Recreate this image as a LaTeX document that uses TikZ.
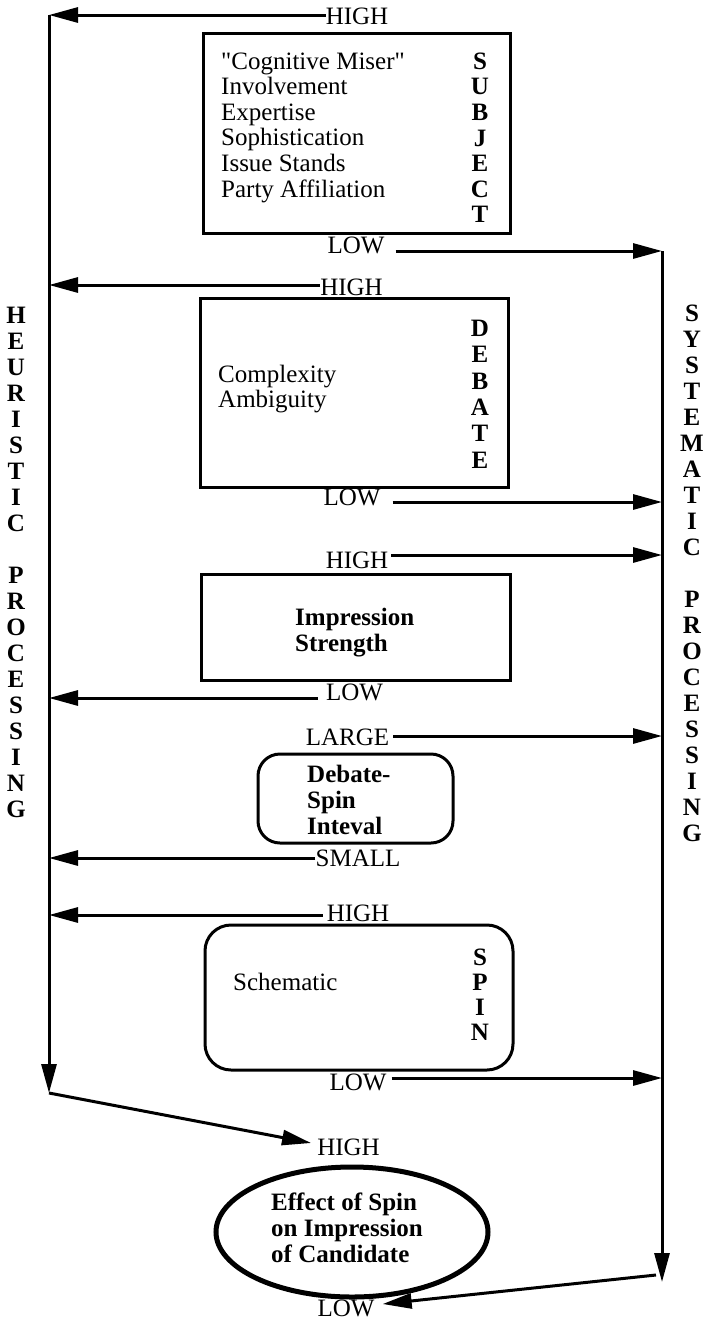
\documentclass[tikz,border=0pt]{standalone}
\usepackage{fontspec}
\setmainfont{Liberation Serif}
\usetikzlibrary{arrows.meta,shapes.geometric}
\begin{document}
\begin{tikzpicture}[x=1pt,y=-1pt,
  conn/.style={line width=3pt,-{Triangle[length=29pt,width=15pt]}},
  lbl/.style={font=\fontsize{25}{26}\selectfont,inner sep=0pt,text height=16.5pt,text depth=0pt},
  txt/.style={font=\fontsize{25}{26}\selectfont,inner sep=0pt,anchor=base west},
  btxt/.style={font=\fontsize{25}{26}\selectfont\bfseries,inner sep=0pt,anchor=base west},
  vlet/.style={font=\fontsize{25}{26}\selectfont\bfseries,inner sep=0pt,text height=16.5pt,text depth=0pt},
  sqbox/.style={draw,line width=3pt,inner sep=0pt},
  rbox/.style={draw,line width=3pt,inner sep=0pt},
]
\useasboundingbox (0,0) rectangle (707,1323);

% boxes
\node[sqbox,minimum width=307pt,minimum height=200pt] (subj) at (356.5,133) {};
\node[sqbox,minimum width=308pt,minimum height=189pt] (deb) at (354,392.5) {};
\node[sqbox,minimum width=309pt,minimum height=106pt] (imp) at (355.5,627) {};
\node[rbox,rounded corners=22pt,minimum width=195pt,minimum height=89pt] (dsi) at (355.5,798.5) {};
\node[rbox,rounded corners=26pt,minimum width=308pt,minimum height=145pt] (spin) at (359,997.5) {};
\node[ellipse,draw,line width=5pt,inner sep=0pt,minimum width=272pt,minimum height=130pt] (eff) at (352,1232) {};

% box texts
\foreach \t [count=\i from 0] in {\textquotedbl Cognitive Miser\textquotedbl,Involvement,Expertise,Sophistication,Issue Stands,Party Affiliation}
  \node[txt] (st\i) at (221,{69+25.6*\i}) {\t};
\foreach \c [count=\i from 0] in {S,U,B,J,E,C,T}
  \node[vlet] (sl\i) at (480,{61+25.6*\i}) {\c};
\node[txt] (dt0) at (218,382) {Complexity};
\node[txt] (dt1) at (218,407.5) {Ambiguity};
\foreach \c [count=\i from 0] in {D,E,B,A,T,E}
  \node[vlet] (dl\i) at (480,{328+26.4*\i}) {\c};
\node[btxt] (it0) at (295,625) {Impression};
\node[btxt] (it1) at (295,651.5) {Strength};
\node[btxt] (qt0) at (307,782) {Debate-};
\node[btxt] (qt1) at (307,808) {Spin};
\node[btxt] (qt2) at (307,834) {Inteval};
\node[txt] (pt0) at (233,990) {Schematic};
\foreach \c [count=\i from 0] in {S,P,I,N}
  \node[vlet] (pl\i) at (480,{957+25.2*\i}) {\c};
\node[btxt] (et0) at (271,1210) {Effect of Spin};
\node[btxt] (et1) at (271,1236) {on Impression};
\node[btxt] (et2) at (271,1262) {of Candidate};

% side labels
\foreach \c [count=\i from 0] in {H,E,U,R,I,S,T,I,C}
  \node[vlet] (ha\i) at (16,{315+26*\i}) {\c};
\foreach \c [count=\i from 0] in {P,R,O,C,E,S,S,I,N,G}
  \node[vlet] (hb\i) at (16,{575+26*\i}) {\c};
\foreach \c [count=\i from 0] in {S,Y,S,T,E,M,A,T,I,C}
  \node[vlet] (sa\i) at (692,{313+26*\i}) {\c};
\foreach \c [count=\i from 0] in {P,R,O,C,E,S,S,I,N,G}
  \node[vlet] (sb\i) at (692,{599+26*\i}) {\c};

% level labels
\node[lbl] (h1) at (357,16) {HIGH};
\node[lbl] (l1) at (356,245) {LOW};
\node[lbl] (h2) at (351.5,287) {HIGH};
\node[lbl] (l2) at (352,497) {LOW};
\node[lbl] (h3) at (357,560) {HIGH};
\node[lbl] (l3) at (354.5,692) {LOW};
\node[lbl] (lg) at (347.5,737) {LARGE};
\node[lbl] (sm) at (358,858) {SMALL};
\node[lbl] (h4) at (358,913) {HIGH};
\node[lbl] (l4) at (358,1082) {LOW};
\node[lbl] (hb) at (348.5,1147) {HIGH};
\node[lbl] (lb) at (346,1308) {LOW};

% line coordinates
\coordinate (Ltop) at (49,15);
\coordinate (Lbot) at (49,1093);
\coordinate (Rtop) at (662,251);
\coordinate (Rbot) at (662,1282);
\coordinate (La2) at (49,285);
\coordinate (Rb2) at (662,502);
\coordinate (Rb3) at (662,555);
\coordinate (La3) at (49,698);
\coordinate (Rb4) at (662,736);
\coordinate (La4) at (49,858);
\coordinate (La5) at (49,915);
\coordinate (Rb5) at (662,1078);
\coordinate (Rd) at (656,1275);

% connectors
\draw[conn] (h1.west |- Ltop) -- (Ltop);
\draw[conn] (Ltop) -- (Lbot);
\draw[conn] ([xshift=11pt]l1.east |- Rtop) -- (Rtop);
\draw[conn] (Rtop) -- (Rbot);
\draw[conn] (h2.west |- La2) -- (La2);
\draw[conn] ([xshift=12pt]l2.east |- Rb2) -- (Rb2);
\draw[conn] ([xshift=3pt]h3.east |- Rb3) -- (Rb3);
\draw[conn] ([xshift=-8pt]l3.west |- La3) -- (La3);
\draw[conn] ([xshift=4pt]lg.east |- Rb4) -- (Rb4);
\draw[conn] (sm.west |- La4) -- (La4);
\draw[conn] ([xshift=-4pt]h4.west |- La5) -- (La5);
\draw[conn] ([xshift=5pt]l4.east |- Rb5) -- (Rb5);
\draw[conn] (Lbot) -- ([xshift=-6pt,yshift=4pt]hb.west);
\draw[conn] (Rd) -- ([xshift=8pt,yshift=4pt]lb.east);
\end{tikzpicture}
\end{document}
